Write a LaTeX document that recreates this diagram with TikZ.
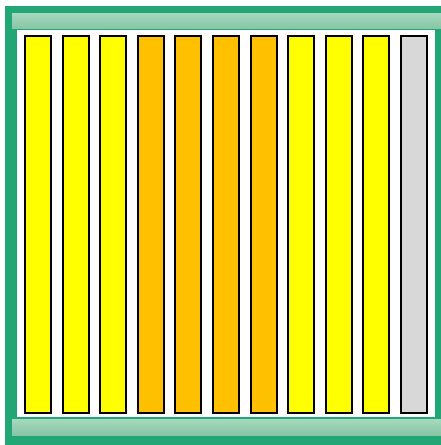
\documentclass[tikz,border=0pt]{standalone}
\usetikzlibrary{positioning, shadows}

\definecolor{framegreen}{RGB}{34,166,118}
\definecolor{railtop}{RGB}{166,216,190}
\definecolor{railbot}{RGB}{134,198,166}
\definecolor{cellyellow}{RGB}{255,255,0}
\definecolor{cellorange}{RGB}{255,192,0}
\definecolor{cellgrey}{RGB}{216,216,216}

\begin{document}
\begin{tikzpicture}[
  x=1pt, y=-1pt,
  frame/.style={fill=framegreen, inner sep=0pt, outer sep=0pt,
    minimum width=436pt, minimum height=439pt},
  rail/.style={top color=railtop, bottom color=railbot, inner sep=0pt, outer sep=0pt,
    minimum width=429pt},
  panel/.style={fill=white, inner sep=0pt, outer sep=0pt,
    minimum width=418pt, minimum height=387pt},
  cell/.style={draw=black, line width=2pt, inner sep=0pt, outer sep=0pt,
    minimum width=26pt, minimum height=377pt,
    drop shadow={shadow xshift=1pt, shadow yshift=-1pt, fill=black!35, opacity=1}}
]
  \useasboundingbox (0,0) rectangle (441,445);

  % --- Cadre et rails ---
  \node[frame] (frame) at (223,225.5) {};
  \node[rail, minimum height=15pt] (toprail) at (226.5,20.5) {};
  \node[panel] (panel) at (226,223.5) {};
  \node[rail, minimum height=16pt] (botrail) at (226.5,427) {};

  % --- Cellules ---
  \node[cell, fill=cellyellow] (cell1) at (38,224.5) {};
  \foreach \c [count=\i from 2, remember=\i as \j (initially 1)] in
    {yellow,yellow,orange,orange,orange,orange,yellow,yellow,yellow,grey}
    \node[cell, fill=cell\c, right=11.6pt of cell\j] (cell\i) {};

\end{tikzpicture}
\end{document}
